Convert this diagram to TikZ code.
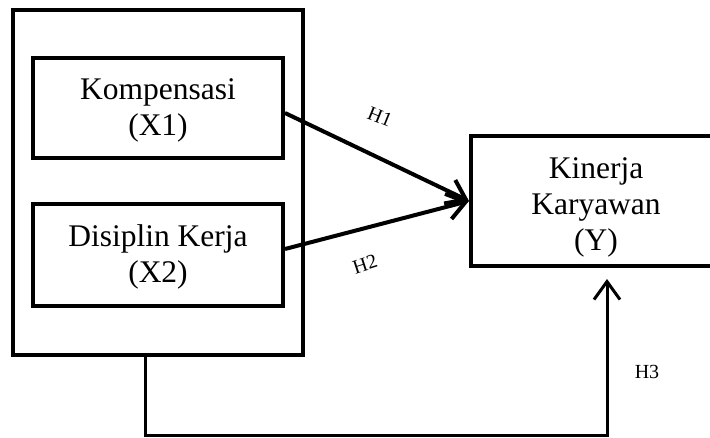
\documentclass[tikz,border=0pt]{standalone}
\usepackage{fontspec}
\setmainfont{Liberation Serif}
\usetikzlibrary{arrows.meta}

\begin{document}
\begin{tikzpicture}[x=1pt,y=-1pt,
    box/.style={draw,line width=4pt,minimum width=250pt,align=center,inner sep=0pt,
      font=\fontsize{31.5}{36}\selectfont},
    arr/.style={line width=4pt,-{Straight Barb[length=18pt,width=26pt]}},
    hyp/.style={font=\fontsize{20}{24}\selectfont,inner sep=0pt}]
      \path[use as bounding box,clip] (0,0) rectangle (710,437);
      \node[draw,line width=4pt,minimum width=290pt,minimum height=345pt] (outer) at (158,182.5) {};
      \node[box,minimum height=100pt] (komp) at (158,108) {\rule{0pt}{26pt}Kompensasi\\(X1)};
      \node[box,minimum height=102pt] (disc) at (158,255) {\rule{0pt}{26pt}Disiplin Kerja\\(X2)};
      \node[box,minimum height=130pt] (kin) at (596,201) {\rule{0pt}{34pt}Kinerja\\Karyawan\\(Y)};
      \draw[arr] ([yshift=-5pt]komp.east) -- (kin.west);
      \draw[arr] ([yshift=6pt]disc.east) -- (kin.west);
      \draw[arr,line width=3pt] ([xshift=-13pt]outer.south) -- ++(0,78) -| ([xshift=11pt,yshift=-11pt]kin.south);
      \node[hyp,rotate=-22] (h1) at (380,117) {H1};
      \node[hyp,rotate=18] (h2) at (365,264) {H2};
      \node[hyp] (h3) at (647,372) {H3};
\end{tikzpicture}
\end{document}
